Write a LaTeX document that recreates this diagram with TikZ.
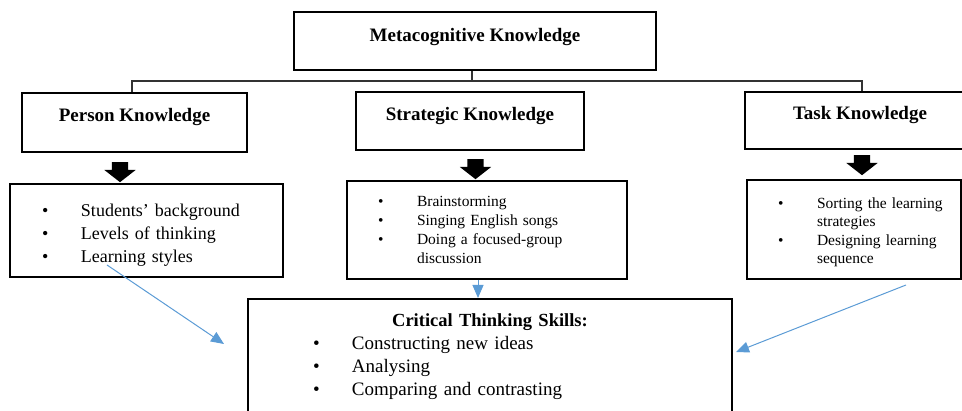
\documentclass[tikz,border=0pt]{standalone}
\usepackage{fontspec}
\setmainfont{Liberation Serif}
\usetikzlibrary{shapes.arrows, arrows.meta}
\definecolor{linkblue}{RGB}{91,155,213}
\newcommand{\blt}[1]{\mbox{\makebox[39pt][l]{\textbullet}#1}}
\newcommand{\cnt}[1]{\mbox{\hspace*{39pt}#1}}
\tikzset{
headbox/.style={draw, line width=2pt, font=\fontsize{19}{23}\selectfont\bfseries, text depth=15pt}, % the knowledge boxes
listbox/.style={draw, line width=2pt, align=left, inner ysep=0pt}, % boxes holding the bullet lists
downarrow/.style={single arrow, fill=black, rotate=-90, inner xsep=0pt, inner ysep=8pt, single arrow head extend=7.5pt, single arrow tip angle=104, minimum height=20pt}, % the small black arrows
link/.style={-{Triangle[length=13pt,width=11pt]}, draw=linkblue, line width=1pt}, % the blue arrows
treeline/.style={draw=black!80, line width=1.2pt}, % lines of the tree
}

\begin{document}
\begin{tikzpicture}[x=1pt, y=-1pt]
    \useasboundingbox (0,0) rectangle (962,411);
    \clip (0,0) rectangle (962,411);
    % knowledge boxes
    \node[headbox, minimum width=362pt, minimum height=58pt, text depth=13pt] (meta) at (475,41) {Metacognitive Knowledge};
    \node[headbox, minimum width=225pt, minimum height=59pt] (person) at (134.5,122.5) {Person Knowledge};
    \node[headbox, minimum width=228pt, minimum height=58pt] (strat) at (470,121) {Strategic Knowledge};
    \node[headbox, minimum width=230pt, minimum height=57pt] (task) at (860,120.5) {Task Knowledge};
    \coordinate (fork) at ([xshift=-3pt,yshift=-10pt]meta.south);
    \draw[treeline] ([xshift=-3pt]meta.south) -- (fork);
    \draw[treeline] ([xshift=-2.5pt]person.north) |- (fork) -| ([xshift=2pt]task.north);
    % black arrows
    \node[downarrow] (arrP) at (120,169) {};
    \node[downarrow] (arrS) at (475.5,166) {};
    \node[downarrow] (arrT) at (862,162) {};
    % lists
    \node[listbox, text width=209pt, inner xsep=32pt, minimum height=93pt, text height=22.5pt, font=\fontsize{18}{23}\selectfont] (pitems) at (146.5,230.5)
        {\blt{Students' background}\\ \blt{Levels of thinking}\\ \blt{Learning styles}};
    \node[listbox, text width=218pt, inner xsep=31pt, minimum height=98pt, font=\fontsize{15.5}{19}\selectfont] (sitems) at (487,230)
        {\blt{Brainstorming}\\ \blt{Singing English songs}\\ \blt{Doing a focused-group}\\ \cnt{discussion}};
    \node[listbox, text width=152pt, inner xsep=31pt, minimum height=99pt, text height=16.5pt, font=\fontsize{15.5}{18.5}\selectfont] (titems) at (854,229.5)
        {\blt{Sorting the learning}\\ \cnt{strategies}\\ \blt{Designing learning}\\ \cnt{sequence}};
    \node[listbox, anchor=north, text width=354pt, inner xsep=65pt, inner ysep=15pt, text depth=100pt, font=\fontsize{19}{23}\selectfont] (crit) at (490,298)
        {\makebox[354pt][c]{\fontsize{18.5}{23}\selectfont\bfseries Critical Thinking Skills:}\\ \blt{Constructing new ideas}\\ \blt{Analysing}\\ \blt{Comparing and contrasting}};
    % blue arrows
    \draw[link] ([xshift=-39.5pt,yshift=13pt]pitems.south) -- ([xshift=-23pt,yshift=-46pt]crit.north west);
    \draw[link] ([xshift=-9pt]sitems.south) -- ([xshift=-9pt]sitems.south |- crit.north);
    \draw[link] ([xshift=52pt,yshift=-5pt]titems.south) -- ([xshift=3pt,yshift=-54pt]crit.north east);
\end{tikzpicture}
\end{document}
